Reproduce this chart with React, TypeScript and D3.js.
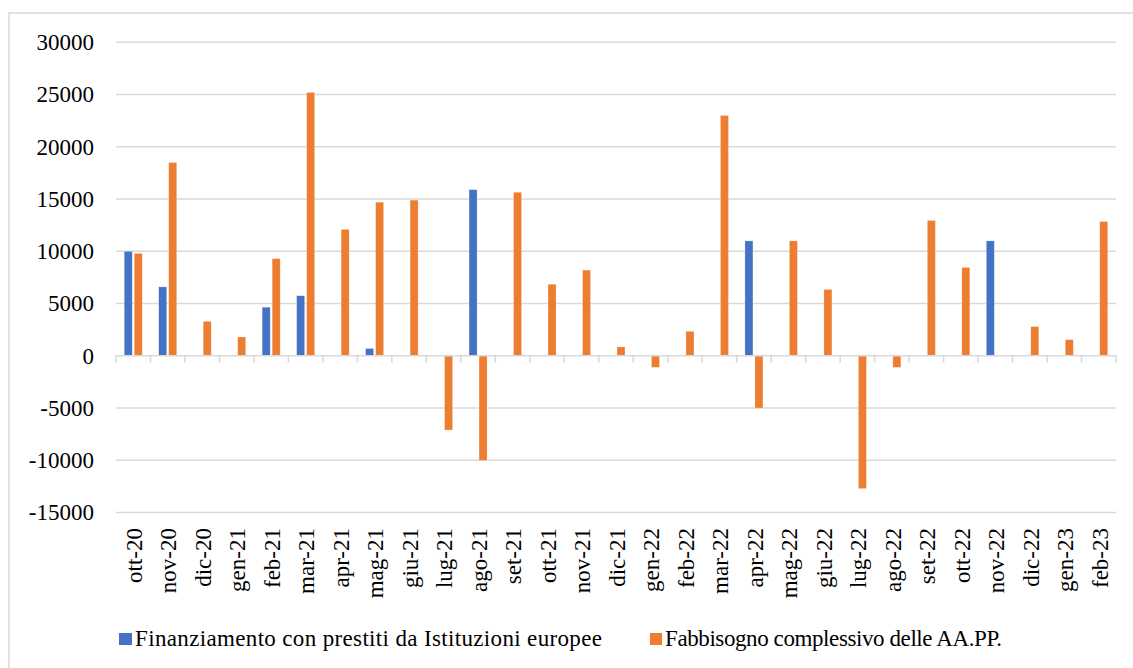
import React from "react";
import * as d3 from "d3";

const categories = [
  "ott-20", "nov-20", "dic-20", "gen-21", "feb-21", "mar-21", "apr-21", "mag-21", "giu-21",
  "lug-21", "ago-21", "set-21", "ott-21", "nov-21", "dic-21", "gen-22", "feb-22", "mar-22",
  "apr-22", "mag-22", "giu-22", "lug-22", "ago-22", "set-22", "ott-22", "nov-22", "dic-22",
  "gen-23", "feb-23",
];

const finanziamentoUE = [
  10000, 6600, 0, 0, 4650, 5750, 0, 700, 0,
  0, 15900, 0, 0, 0, 0, 0, 0, 0,
  11000, 0, 0, 0, 0, 0, 0, 11000, 0,
  0, 0,
];

const fabbisogno = [
  9800, 18500, 3300, 1800, 9300, 25200, 12100, 14700, 14900,
  -7100, -10000, 15650, 6850, 8200, 850, -1100, 2350, 23000,
  -5000, 11000, 6350, -12700, -1100, 12950, 8450, 0, 2800,
  1550, 12850,
];

const seriesNames = [
  "Finanziamento con prestiti da Istituzioni europee",
  "Fabbisogno complessivo delle AA.PP.",
];
const seriesColors = ["#4472C4", "#ED7D31"];
const yTicks = [-15000, -10000, -5000, 0, 5000, 10000, 15000, 20000, 25000, 30000];

const W = 1133;
const H = 668;
const plot = { left: 116, right: 1116, top: 42.3, bottom: 512.6 };
const FONT = "'Liberation Serif', 'Times New Roman', Times, serif";
const txt = { fontFamily: FONT };

export default function App() {
  const x0 = d3.scaleBand<string>().domain(categories).range([plot.left, plot.right]).padding(0);
  const bw = x0.bandwidth();
  const x1 = d3
    .scaleBand<string>()
    .domain(["a", "b"])
    .range([bw / 2 - 9, bw / 2 + 9])
    .paddingInner(0.2)
    .paddingOuter(0);
  const y = d3.scaleLinear().domain([-15000, 30000]).range([plot.bottom, plot.top]);
  const y0 = y(0);

  const series = [finanziamentoUE, fabbisogno];
  const keys = ["a", "b"];

  return (
    <svg
      width={W}
      height={H}
      style={{ position: "absolute", left: 0, top: 0, background: "#fff" }}
    >
      <rect x={9} y={13} width={1130} height={670} fill="#fff" stroke="#d9d9d9" strokeWidth={1.5} />
      {yTicks.map((t) => (
        <g key={t}>
          {t !== 0 && (
            <line x1={plot.left} x2={plot.right} y1={y(t)} y2={y(t)} stroke="#d9d9d9" strokeWidth={1.5} />
          )}
          <text x={94} y={y(t)} dy="0.34em" textAnchor="end" fontSize={23} fill="#000" style={txt}>
            {t}
          </text>
        </g>
      ))}
      {series.map((vals, si) =>
        vals.map((v, i) =>
          v === 0 ? null : (
            <rect
              key={`${si}-${i}`}
              x={(x0(categories[i]) as number) + (x1(keys[si]) as number)}
              y={Math.min(y(v), y0)}
              width={x1.bandwidth()}
              height={Math.abs(y(v) - y0)}
              fill={seriesColors[si]}
              stroke="#fff"
              strokeOpacity={0.4}
              strokeWidth={0.6}
            />
          )
        )
      )}
      <line x1={plot.left} x2={plot.right} y1={y0} y2={y0} stroke="#d9d9d9" strokeWidth={1.5} />
      {categories.map((c, i) => (
        <line
          key={"t" + i}
          x1={x0(c) as number}
          x2={x0(c) as number}
          y1={y0}
          y2={y0 + 7}
          stroke="#d9d9d9"
          strokeWidth={1.5}
        />
      ))}
      <line x1={plot.right} x2={plot.right} y1={y0} y2={y0 + 7} stroke="#d9d9d9" strokeWidth={1.5} />
      {categories.map((c) => {
        const cx = (x0(c) as number) + bw / 2;
        return (
          <text
            key={"l" + c}
            transform={`translate(${cx},528) rotate(-90)`}
            textAnchor="end"
            dy="0.38em"
            fontSize={23}
            fill="#000"
            style={txt}
          >
            {c}
          </text>
        );
      })}
      <rect x={119} y={633} width={13} height={12} fill={seriesColors[0]} />
      <text x={135} y={646} fontSize={23} fill="#000" style={txt} textLength={467} lengthAdjust="spacing">
        {seriesNames[0]}
      </text>
      <rect x={650} y={633} width={12} height={12} fill={seriesColors[1]} />
      <text x={665} y={646} fontSize={23} fill="#000" style={txt} textLength={337} lengthAdjust="spacing">
        {seriesNames[1]}
      </text>
    </svg>
  );
}
